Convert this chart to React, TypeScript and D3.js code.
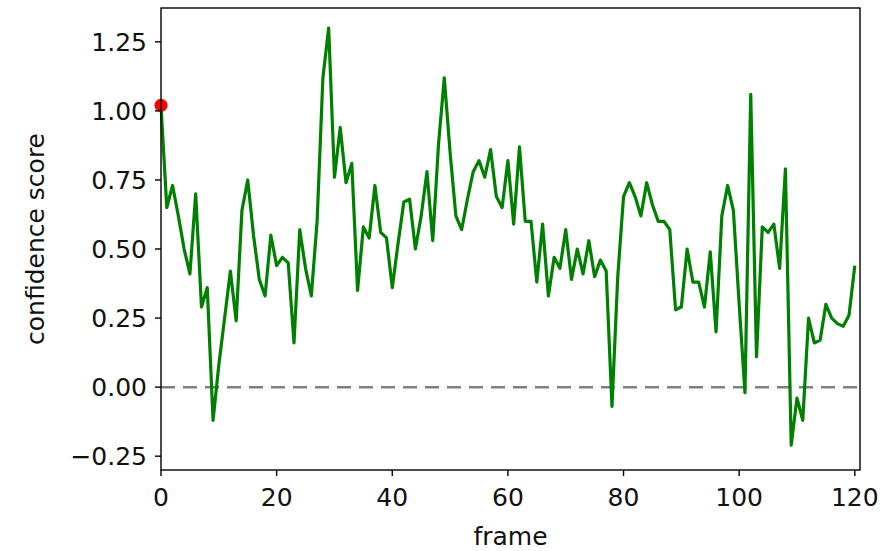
import * as d3 from "d3";

const frames = d3.range(0, 121);

const scores = [
  1.02, 0.65, 0.73, 0.62, 0.5, 0.41, 0.7, 0.29, 0.36, -0.12,
  0.08, 0.25, 0.42, 0.24, 0.64, 0.75, 0.55, 0.39, 0.33, 0.55,
  0.44, 0.47, 0.45, 0.16, 0.57, 0.43, 0.33, 0.6, 1.12, 1.3,
  0.76, 0.94, 0.74, 0.81, 0.35, 0.58, 0.54, 0.73, 0.56, 0.54,
  0.36, 0.52, 0.67, 0.68, 0.5, 0.62, 0.78, 0.53, 0.88, 1.12,
  0.85, 0.62, 0.57, 0.68, 0.78, 0.82, 0.76, 0.86, 0.69, 0.65,
  0.82, 0.59, 0.87, 0.6, 0.6, 0.38, 0.59, 0.33, 0.47, 0.43,
  0.57, 0.39, 0.5, 0.41, 0.53, 0.4, 0.46, 0.42, -0.07, 0.4,
  0.69, 0.74, 0.69, 0.62, 0.74, 0.66, 0.6, 0.6, 0.57, 0.28,
  0.29, 0.5, 0.38, 0.38, 0.29, 0.49, 0.2, 0.62, 0.73, 0.64,
  0.3, -0.02, 1.06, 0.11, 0.58, 0.56, 0.59, 0.43, 0.79, -0.21,
  -0.04, -0.12, 0.25, 0.16, 0.17, 0.3, 0.25, 0.23, 0.22, 0.26,
  0.44,
];

const xTicks = [0, 20, 40, 60, 80, 100, 120];
const yTicks = [-0.25, 0, 0.25, 0.5, 0.75, 1.0, 1.25];

const width = 886;
const height = 551;
const margin = { top: 8, right: 26, bottom: 81, left: 161 };

export default function App() {
  const x = d3
    .scaleLinear()
    .domain([0, 120.9])
    .range([margin.left, width - margin.right]);
  const y = d3
    .scaleLinear()
    .domain([-0.3, 1.3725])
    .range([height - margin.bottom, margin.top]);

  const line = d3
    .line<number>()
    .x((_, i) => x(frames[i]))
    .y((d) => y(d));

  const font = "DejaVu Sans, sans-serif";
  const fs = 25;

  return (
    <div style={{ position: "absolute", left: 0, top: 0 }}>
      <svg width={width} height={height} style={{ display: "block", background: "#fff" }}>
        <line
          x1={x(0)}
          x2={x(120.9)}
          y1={y(0)}
          y2={y(0)}
          stroke="#808080"
          strokeWidth={2.5}
          strokeDasharray="14 8"
        />
        <path d={line(scores) ?? ""} fill="none" stroke="#008000" strokeWidth={3.2} strokeLinejoin="round" />
        <circle cx={x(0)} cy={y(scores[0])} r={6.5} fill="#ff0000" />

        <rect
          x={margin.left}
          y={margin.top}
          width={width - margin.left - margin.right}
          height={height - margin.top - margin.bottom}
          fill="none"
          stroke="#000"
          strokeWidth={1.4}
        />

        {xTicks.map((t) => (
          <g key={t} transform={`translate(${x(t)},${height - margin.bottom})`}>
            <line y2={6} stroke="#000" strokeWidth={1.4} />
            <text y={36} textAnchor="middle" fontFamily={font} fontSize={fs} fill="#111">
              {t}
            </text>
          </g>
        ))}
        {yTicks.map((t) => (
          <g key={t} transform={`translate(${margin.left},${y(t)})`}>
            <line x2={-6} stroke="#000" strokeWidth={1.4} />
            <text x={-14} dy="0.36em" textAnchor="end" fontFamily={font} fontSize={fs} fill="#111">
              {d3.format(".2f")(t).replace("-", "\u2212")}
            </text>
          </g>
        ))}

        <text
          x={(margin.left + width - margin.right) / 2}
          y={545}
          textAnchor="middle"
          fontFamily={font}
          fontSize={fs}
          fill="#111"
        >
          frame
        </text>
        <text
          transform={`translate(44,${(margin.top + height - margin.bottom) / 2}) rotate(-90)`}
          textAnchor="middle"
          fontFamily={font}
          fontSize={fs}
          fill="#111"
        >
          confidence score
        </text>
      </svg>
    </div>
  );
}
